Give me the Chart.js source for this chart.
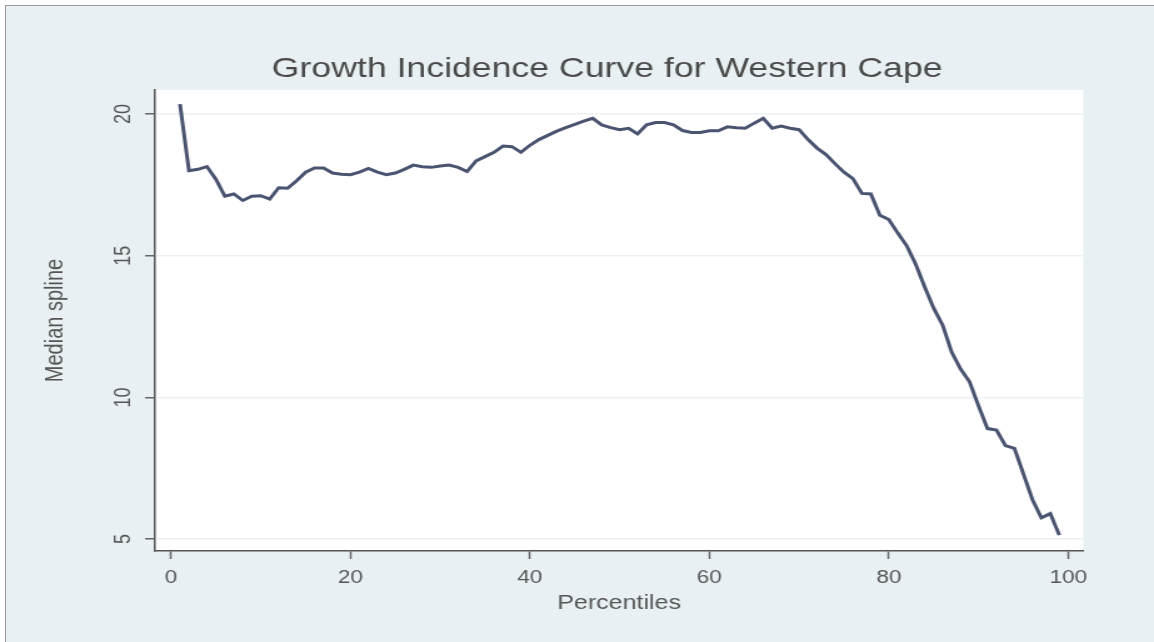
<!DOCTYPE html>
<html>
<head>
<meta charset="utf-8">
<title>Growth Incidence Curve for Western Cape</title>
<script src="https://cdn.jsdelivr.net/npm/chart.js@4.4.1/dist/chart.umd.min.js"></script>
<style>
  html, body { margin: 0; padding: 0; background: #ffffff; }
  #frame {
    position: absolute; left: 5px; top: 5px; width: 1149px; height: 637px;
    background: #e8f0f3; border-top: 1px solid #9a9a9a; border-left: 1px solid #9a9a9a;
  }
  #wrap { position: absolute; left: 0; top: 0; width: 1154px; height: 642px; }
</style>
</head>
<body>
<div id="frame"></div>
<div id="wrap"><canvas id="gicChart"></canvas></div>
<script>
// percentile of the expenditure distribution (x) and median spline growth rate (y)
const percentiles = [
  1, 2, 3, 4, 5, 6, 7, 8, 9, 10,
  11, 12, 13, 14, 15, 16, 17, 18, 19, 20,
  21, 22, 23, 24, 25, 26, 27, 28, 29, 30,
  31, 32, 33, 34, 35, 36, 37, 38, 39, 40,
  41, 42, 43, 44, 45, 46, 47, 48, 49, 50,
  51, 52, 53, 54, 55, 56, 57, 58, 59, 60,
  61, 62, 63, 64, 65, 66, 67, 68, 69, 70,
  71, 72, 73, 74, 75, 76, 77, 78, 79, 80,
  81, 82, 83, 84, 85, 86, 87, 88, 89, 90,
  91, 92, 93, 94, 95, 96, 97, 98, 99
];
const medianSpline = [
  20.35, 18.00, 18.05, 18.15, 17.70, 17.10, 17.18, 16.95, 17.10, 17.12,
  17.00, 17.40, 17.38, 17.65, 17.95, 18.10, 18.10, 17.92, 17.88, 17.86,
  17.95, 18.08, 17.95, 17.86, 17.92, 18.05, 18.20, 18.14, 18.12, 18.17,
  18.20, 18.12, 17.97, 18.35, 18.50, 18.65, 18.87, 18.85, 18.65, 18.90,
  19.10, 19.25, 19.40, 19.52, 19.64, 19.75, 19.85, 19.62, 19.52, 19.45,
  19.50, 19.30, 19.62, 19.70, 19.70, 19.62, 19.42, 19.35, 19.35, 19.41,
  19.41, 19.55, 19.52, 19.50, 19.68, 19.85, 19.50, 19.58, 19.50, 19.45,
  19.10, 18.80, 18.57, 18.25, 17.95, 17.72, 17.20, 17.18, 16.43, 16.28,
  15.80, 15.35, 14.70, 13.90, 13.15, 12.55, 11.60, 11.00, 10.55, 9.70,
  8.90, 8.85, 8.30, 8.20, 7.30, 6.40, 5.75, 5.90, 5.14
];
const xTicks = [0, 20, 40, 60, 80, 100];
const yTicks = [5, 10, 15, 20];

const chartTitle = 'Growth Incidence Curve for Western Cape';
const textFont = 'Liberation Sans, Arial, sans-serif';

// the graph is drawn narrower and widened by css (wide-screen export look)
const stretch = 1.25;
const pageW = 1154, pageH = 642;
const canvasW = Math.round(pageW / stretch);

// plot region edges, page pixels
const plotLeft = 155, plotRight = 1083, plotTop = 90, plotBottom = 551;

const points = percentiles.map((p, i) => ({x: p, y: medianSpline[i]}));

// white plot region behind the line
const plotBackground = {
  id: 'plotBackground',
  beforeDraw(chart) {
    const {ctx, chartArea} = chart;
    ctx.save();
    ctx.fillStyle = '#ffffff';
    ctx.fillRect(chartArea.left, chartArea.top, chartArea.right - chartArea.left, chartArea.bottom - chartArea.top);
    ctx.restore();
  }
};

// graph title
const graphTitle = {
  id: 'graphTitle',
  afterDraw(chart) {
    const ctx = chart.ctx;
    ctx.save();
    ctx.font = '28.5px ' + textFont;
    ctx.fillStyle = '#4a4a4a';
    ctx.textAlign = 'center';
    ctx.textBaseline = 'middle';
    ctx.fillText(chartTitle, 607 / stretch, 69);
    ctx.restore();
  }
};

const canvas = document.getElementById('gicChart');
canvas.width = canvasW;
canvas.height = pageH;
canvas.style.width = pageW + 'px';
canvas.style.height = pageH + 'px';
const ctx = canvas.getContext('2d');

new Chart(ctx, {
  type: 'line',
  data: {
    datasets: [{
      label: 'Median spline',
      data: points,
      borderColor: '#4a5471',
      borderWidth: 3,
      pointRadius: 0,
      tension: 0,
      fill: false
    }]
  },
  options: {
    responsive: false,
    animation: false,
    devicePixelRatio: 1,
    layout: {
      padding: {top: plotTop, right: canvasW - plotRight / stretch, bottom: 0, left: 0}
    },
    plugins: {
      legend: {display: false},
      tooltip: {enabled: false}
    },
    scales: {
      x: {
        type: 'linear',
        min: -1.78,
        max: 101.67,
        afterBuildTicks: axis => { axis.ticks = xTicks.map(v => ({value: v})); },
        afterFit: axis => { axis.height = pageH - plotBottom; },
        grid: {
          drawOnChartArea: false,
          tickColor: '#666666',
          tickLength: 8,
          tickWidth: 1.5
        },
        border: {color: '#555555', width: 1.5},
        ticks: {
          color: '#555555',
          font: {family: textFont, size: 18},
          padding: 8,
          maxRotation: 0
        },
        title: {
          display: true,
          text: 'Percentiles',
          color: '#555555',
          font: {family: textFont, size: 20},
          padding: {top: 0, bottom: 27}
        }
      },
      y: {
        type: 'linear',
        min: 4.58,
        max: 20.85,
        afterBuildTicks: axis => { axis.ticks = yTicks.map(v => ({value: v})); },
        afterFit: axis => { axis.width = plotLeft / stretch; },
        grid: {
          color: '#edf1f3',
          lineWidth: 1.5,
          tickColor: '#666666',
          tickLength: 8,
          tickWidth: 1.5
        },
        border: {color: '#555555', width: 1.5},
        ticks: {
          color: '#555555',
          font: {family: textFont, size: 18},
          minRotation: 90,
          maxRotation: 90,
          crossAlign: 'center',
          padding: 7
        },
        title: {
          display: true,
          text: 'Median spline',
          color: '#555555',
          font: {family: textFont, size: 20},
          padding: {top: 32, bottom: 0}
        }
      }
    }
  },
  plugins: [plotBackground, graphTitle]
});
</script>
</body>
</html>
